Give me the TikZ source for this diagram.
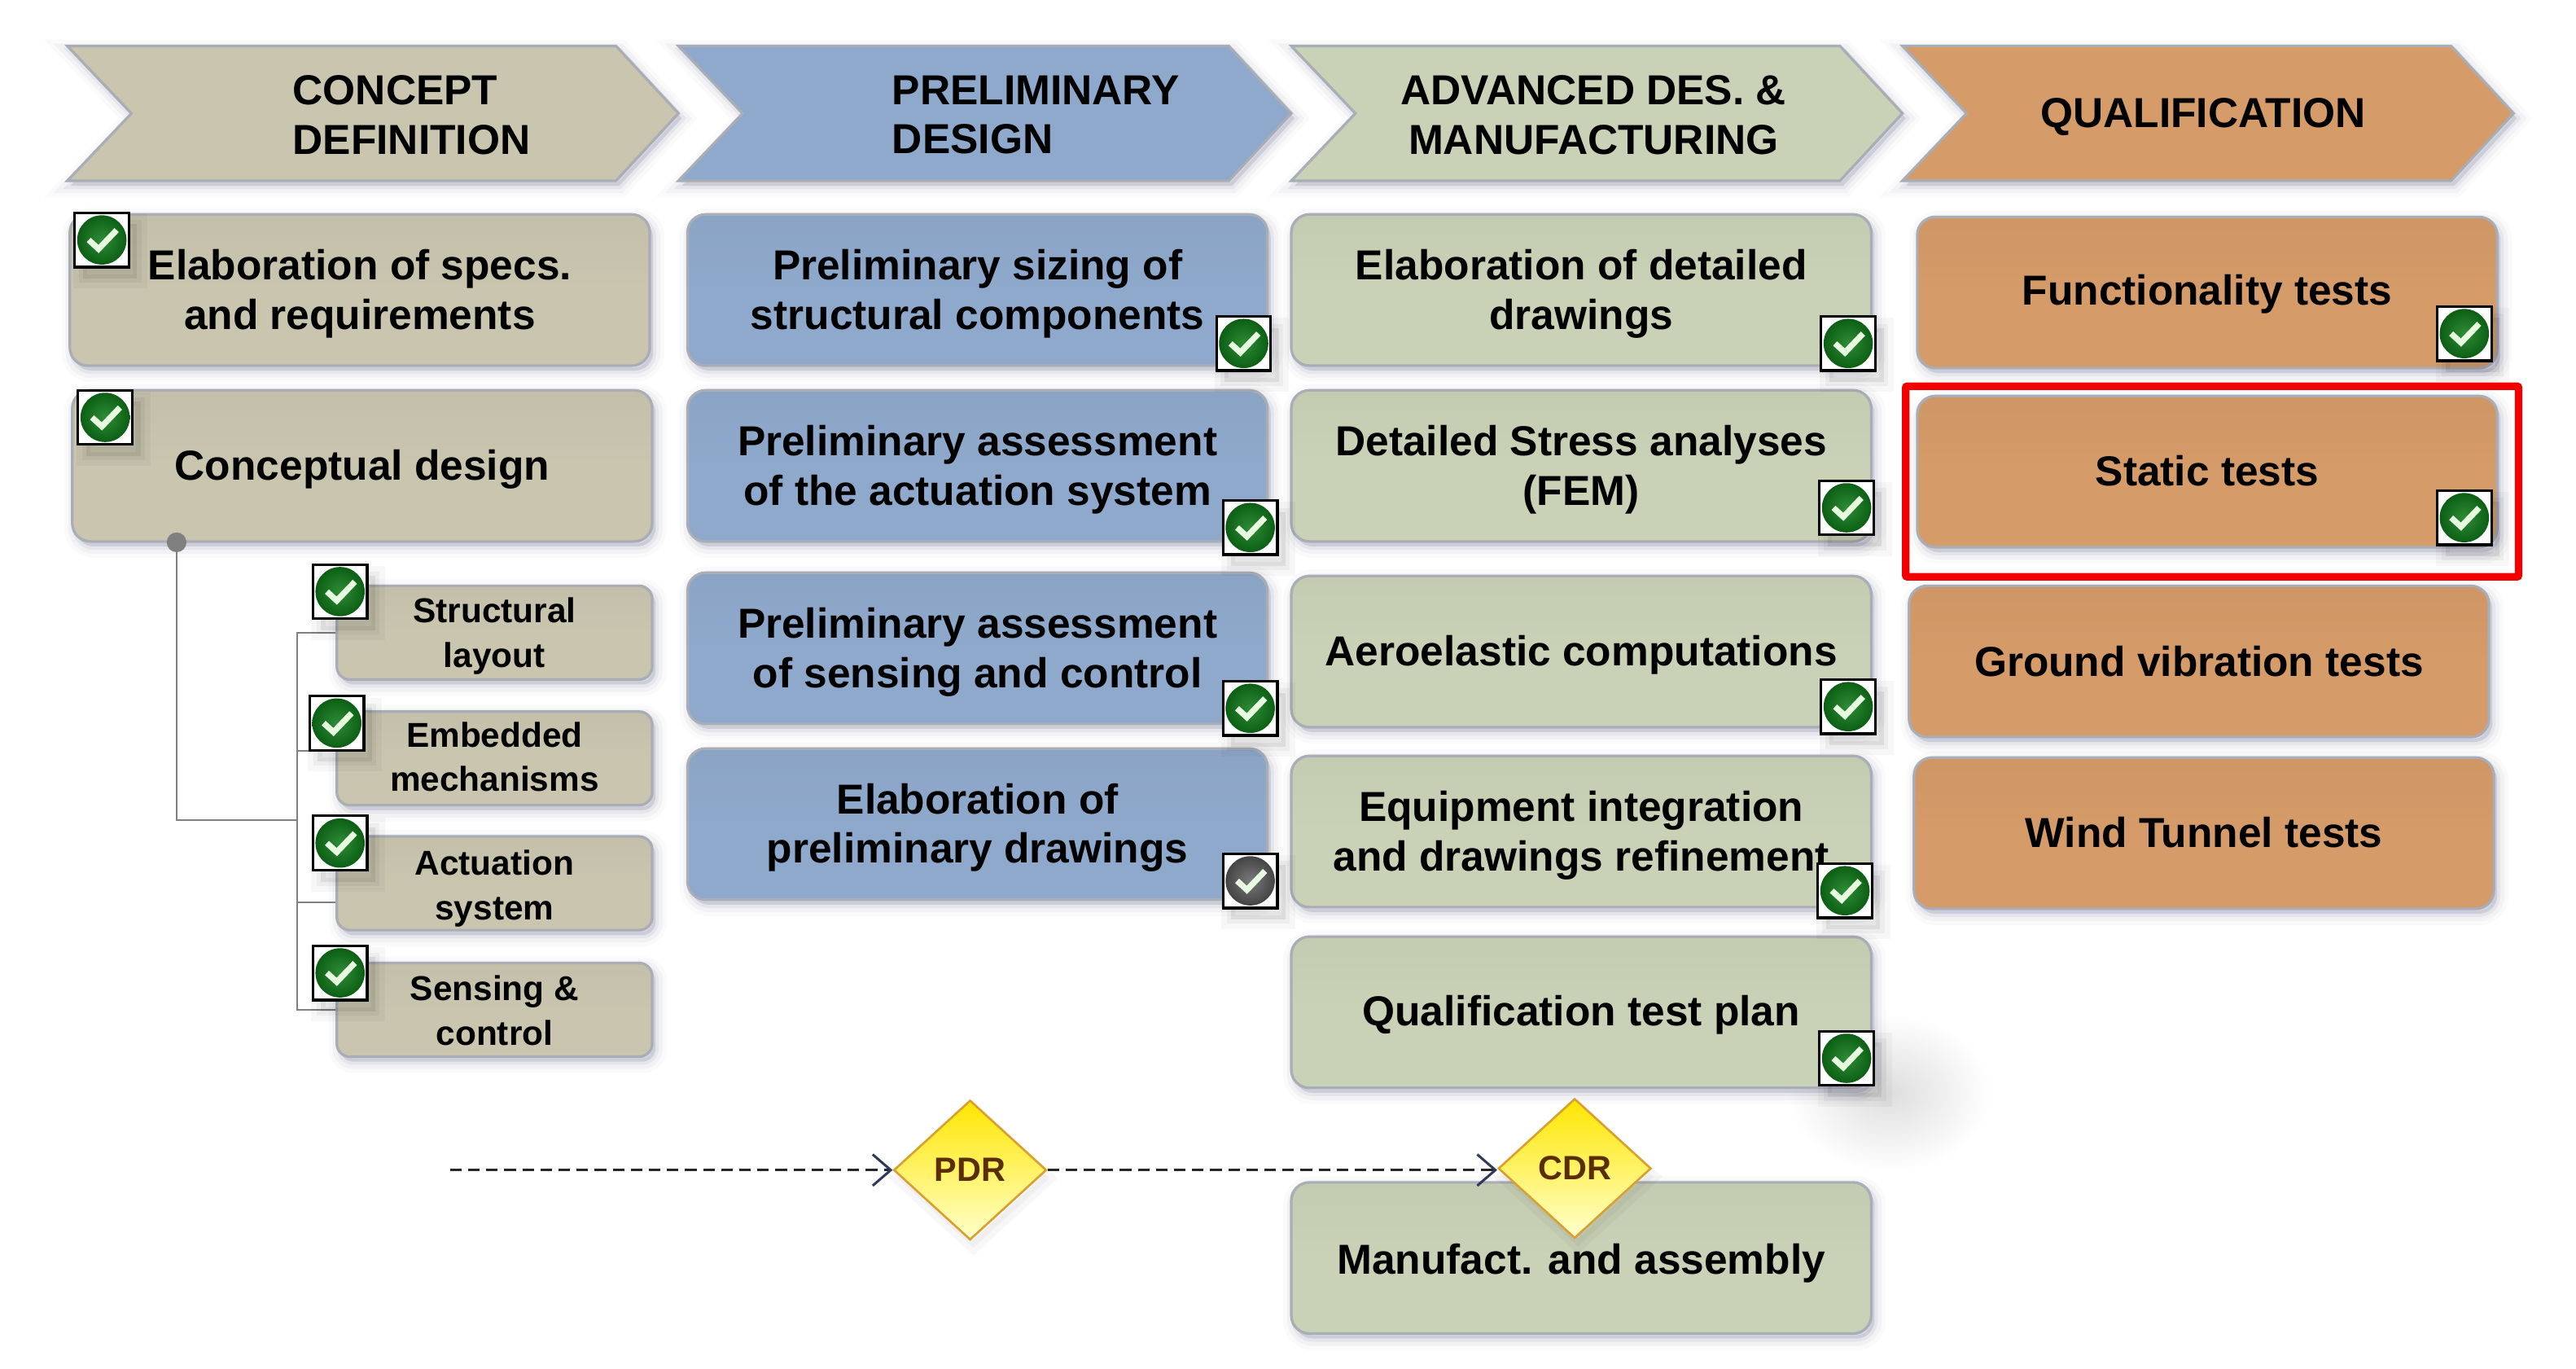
\documentclass[tikz,border=0pt]{standalone}
\usepackage{fontspec}
\setmainfont{Liberation Sans}
\usetikzlibrary{shapes.geometric,shadows,arrows.meta,calc}
\definecolor{tan1}{HTML}{C9C5AF}
\definecolor{blue1}{HTML}{8FA9CC}
\definecolor{green1}{HTML}{C9D2B6}
\definecolor{orange1}{HTML}{D59B69}
\definecolor{edge1}{HTML}{A9ADB5}
\definecolor{okgreen}{HTML}{0C5F14}
\definecolor{okmid}{HTML}{2E8C36}
\definecolor{okgrey}{HTML}{444444}
\definecolor{okgreymid}{HTML}{7A7A7A}
\definecolor{tickc}{HTML}{E6FBE0}
\definecolor{msedge}{HTML}{D9A030}
\definecolor{mstext}{HTML}{5A2E00}
\definecolor{barb}{HTML}{2F3A5A}
\newcommand\btx[2]{\raisebox{-#1pt}[\height][\depth]{\begin{tabular}{@{}c@{}}#2\end{tabular}}}
\tikzset{
  softshadow/.style={
    general shadow={shadow xshift=2pt,shadow yshift=-3pt,fill=black!70!blue,draw=black!70!blue,line width=14pt,opacity=.018},
    general shadow={shadow xshift=2pt,shadow yshift=-3pt,fill=black!70!blue,draw=black!70!blue,line width=9pt,opacity=.03},
    general shadow={shadow xshift=2pt,shadow yshift=-3pt,fill=black!70!blue,draw=black!70!blue,line width=4pt,opacity=.05}},
  boxbase/.style={rectangle,rounded corners=11pt,softshadow,draw=edge1,line width=1.6pt,
    text=black,inner sep=0pt,font=\bfseries\fontsize{25.5}{30}\selectfont,
    top color=#1!97!black,bottom color=#1,middle color=#1},
  bigbox/.style={boxbase=#1,minimum width=353pt,minimum height=92pt},
  subbox/.style={boxbase=#1,minimum width=192pt,minimum height=57pt,rounded corners=8pt,
    font=\bfseries\fontsize{21}{27}\selectfont},
  chevron/.style={draw=edge1,line width=1.6pt,line join=miter,softshadow,fill=#1},
  chevlabel/.style={inner sep=0pt,font=\bfseries\fontsize{25.5}{30}\selectfont,text=black},
  chk/.style 2 args={rectangle,draw=black,fill=white,line width=1.6pt,minimum size=33pt,inner sep=0pt,
    general shadow={shadow xshift=5pt,shadow yshift=-7pt,fill=black,draw=black,line width=12pt,opacity=.03},
    general shadow={shadow xshift=5pt,shadow yshift=-7pt,fill=black,draw=black,line width=5pt,opacity=.04},
    path picture={
      \begin{scope}[shift={(path picture bounding box.center)}]
        \shade[inner color=#2,outer color=#1] (0,0) circle (15pt);
        \draw[tickc,line width=3.6pt,line join=miter] (-8,0) -- (-2,5.5) -- (9,-6);
      \end{scope}}},
  okchk/.style={chk={okgreen}{okmid}},
  greychk/.style={chk={okgrey}{okgreymid}},
  conn/.style={draw=black!50,line width=1.2pt},
  milestone/.style={diamond,aspect=1.1,inner sep=0pt,minimum width=93pt,minimum height=85pt,
    draw=msedge,line width=1.3pt,top color=yellow!80!orange,middle color=yellow,bottom color=yellow!20!white,
    general shadow={shadow xshift=2pt,shadow yshift=-5pt,fill=black,draw=black,line width=7pt,opacity=.03},
    font=\bfseries\fontsize{20.5}{24}\selectfont,text=mstext},
  flow/.style={draw=black!85,line width=1.3pt,dash pattern=on 7pt off 4pt,
    -{Straight Barb[length=11pt,width=19pt,line width=1.5pt,color=barb]}},
  redframe/.style={draw=red!95!black,line width=4.6pt,rounded corners=1pt}
}
\begin{document}
\begin{tikzpicture}[x=1pt,y=-1pt]
\useasboundingbox[fill=white] (0,0) rectangle (1568,833);
% chevrons
\draw[chevron=tan1] (41,28) -- (375,28) -- (413,69) -- (375,110) -- (41,110) -- (80,69) -- cycle;
\draw[chevron=blue1] (413,28) -- (748,28) -- (786,69) -- (748,110) -- (413,110) -- (452,69) -- cycle;
\draw[chevron=green1] (786,28) -- (1120,28) -- (1158,69) -- (1120,110) -- (786,110) -- (825,69) -- cycle;
\draw[chevron=orange1] (1158,28) -- (1492,28) -- (1530,69) -- (1492,110) -- (1158,110) -- (1197,69) -- cycle;
\node[chevlabel,align=left] (h1) at (250.5,70) {CONCEPT\\DEFINITION};
\node[chevlabel,align=left] (h2) at (630.5,70) {PRELIMINARY\\DESIGN};
\node[chevlabel,align=center] (h3) at (970,70) {ADVANCED DES. \&\\MANUFACTURING};
\node[chevlabel] (h4) at (1341,71) {QUALIFICATION};
% haze cast beside the last plan box
\shade[inner color=black!13,outer color=white] (1150,665) ellipse (62pt and 48pt);
% column 1
\node[bigbox=tan1] (a1) at (219,176.5) {\btx{2.8}{Elaboration of specs.\\and requirements}};
\node[bigbox=tan1] (a2) at (220.5,283.5) {\btx{2.8}{Conceptual design}};
\node[subbox=tan1] (s1) at (301,385) {\btx{2.2}{Structural\\layout}};
\node[subbox=tan1] (s2) at (301,461.5) {\btx{1.2}{Embedded\\mechanisms}};
\node[subbox=tan1] (s3) at (301,537.5) {\btx{3.2}{Actuation\\system}};
\node[subbox=tan1] (s4) at (301,614.5) {\btx{2.5}{Sensing \&\\control}};
% column 2
\node[bigbox=blue1] (b1) at (595,176.5) {\btx{2.8}{Preliminary sizing of\\structural components}};
\node[bigbox=blue1] (b2) at (595,283.5) {\btx{2.8}{Preliminary assessment\\of the actuation system}};
\node[bigbox=blue1] (b3) at (595,394.5) {\btx{2.8}{Preliminary assessment\\of sensing and control}};
\node[bigbox=blue1] (b4) at (595,501.5) {\btx{2.8}{Elaboration of\\preliminary drawings}};
% column 3
\node[bigbox=green1] (c1) at (962.5,176.5) {\btx{2.8}{Elaboration of detailed\\drawings}};
\node[bigbox=green1] (c2) at (962.5,283.5) {\btx{2.8}{Detailed Stress analyses\\(FEM)}};
\node[bigbox=green1] (c3) at (962.5,396.5) {\btx{2.8}{Aeroelastic computations}};
\node[bigbox=green1] (c4) at (962.5,506) {\btx{2.8}{Equipment integration\\and drawings refinement}};
\node[bigbox=green1] (c5) at (962.5,616) {\btx{2.2}{Qualification test plan}};
\node[bigbox=green1] (c6) at (962.5,765.5) {\btx{3.8}{Manufact. and assembly}};
% column 4
\node[bigbox=orange1] (d1) at (1343.5,178) {\btx{1.8}{Functionality tests}};
\node[bigbox=orange1] (d2) at (1343.5,287) {\btx{2.8}{Static tests}};
\node[bigbox=orange1] (d3) at (1338.5,402.5) {\btx{3}{Ground vibration tests}};
\node[bigbox=orange1] (d4) at (1341.5,507) {\btx{2.8}{Wind Tunnel tests}};
% tree connector
\coordinate (dot) at (107.5,330);
\coordinate (junc) at (181,499);
\fill[black!50] (dot) circle (6pt);
\draw[conn] (dot) |- (junc);
\draw[conn] (s1.west) -| (junc);
\draw[conn] (s4.west) -| (junc);
\draw[conn] ([yshift=4.5pt]s2.west) -- ([yshift=4.5pt]s2.west -| junc);
\draw[conn] ([yshift=-11.5pt]s3.west) -- ([yshift=-11.5pt]s3.west -| junc);
% milestones and flow
\coordinate (start) at (274,712);
\node[milestone] (pdr) at (590.5,712) {PDR};
\node[milestone] (cdr) at (958.5,711) {CDR};
\draw[flow] (start) -- (pdr.west);
\draw[flow] (pdr.east) -- (pdr.east -| cdr.west);
% check marks
\node[okchk] (k1) at (62,146) {};
\node[okchk] (k2) at (64,254) {};
\node[okchk] (k3) at (207,360) {};
\node[okchk] (k4) at (205,440) {};
\node[okchk] (k5) at (207,513) {};
\node[okchk] (k6) at (207,592) {};
\node[okchk] (k7) at (757,209) {};
\node[okchk] (k8) at (761,321) {};
\node[okchk] (k9) at (761,431) {};
\node[greychk] (k10) at (761,536) {};
\node[okchk] (k11) at (1125,209) {};
\node[okchk] (k12) at (1124,309) {};
\node[okchk] (k13) at (1125,430) {};
\node[okchk] (k14) at (1123,542) {};
\node[okchk] (k15) at (1124,644) {};
\node[okchk] (k16) at (1500,203) {};
\node[okchk] (k17) at (1500,315) {};
% highlight
\draw[redframe] (1160,235) rectangle (1533,351);
\end{tikzpicture}
\end{document}
